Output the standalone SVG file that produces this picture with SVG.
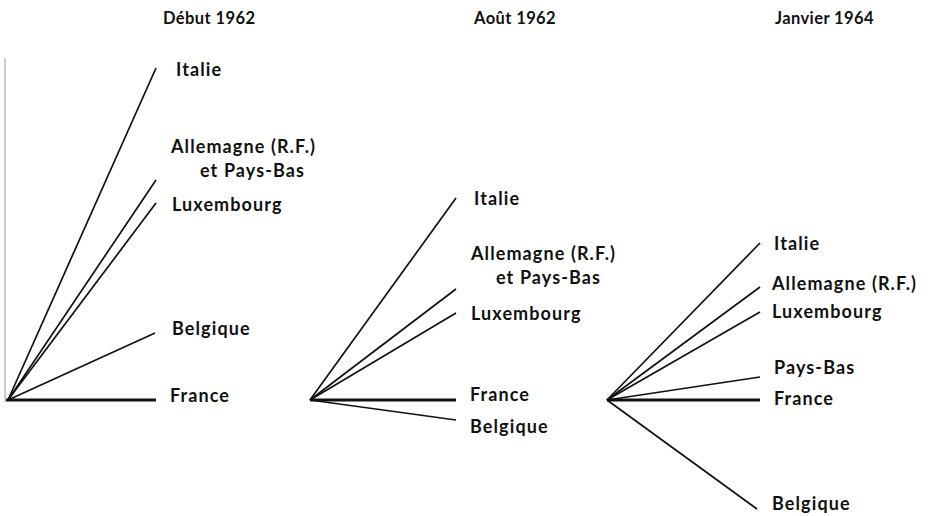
<svg xmlns="http://www.w3.org/2000/svg" width="940" height="516" viewBox="0 0 940 516">
<style>
text{font-family:Lato,"Open Sans","DejaVu Sans",sans-serif;font-size:18px;font-weight:bold;fill:#111;letter-spacing:1.1px}
text.h{font-size:16.5px;letter-spacing:0.4px}
.l{stroke:#111;stroke-width:1.7;fill:none}
.t{stroke:#111;stroke-width:3.2;fill:none}
.ax{stroke:#999;stroke-width:1;fill:none}
</style>
<rect width="940" height="516" fill="#fff"/>
<g id="titles">
<text class="h" x="163" y="24">Début 1962</text>
<text class="h" x="474" y="24">Août 1962</text>
<text class="h" x="775" y="24">Janvier 1964</text>
</g>
<g id="connectors">
<line class="ax" x1="5" y1="58" x2="5" y2="402"/>
<line class="l" x1="8" y1="400" x2="156" y2="68"/>
<line class="l" x1="8" y1="400" x2="156" y2="180"/>
<line class="l" x1="8" y1="400" x2="156" y2="203"/>
<line class="l" x1="8" y1="400" x2="155" y2="333"/>
<line class="t" x1="6" y1="400" x2="156" y2="400"/>
<line class="l" x1="310" y1="400" x2="456" y2="198"/>
<line class="l" x1="310" y1="400" x2="456" y2="289"/>
<line class="l" x1="310" y1="400" x2="456" y2="313"/>
<line class="t" x1="310" y1="400" x2="456" y2="400"/>
<line class="l" x1="310" y1="400" x2="456" y2="420"/>
<line class="l" x1="607" y1="400" x2="760" y2="243"/>
<line class="l" x1="607" y1="400" x2="760" y2="287"/>
<line class="l" x1="607" y1="400" x2="760" y2="312"/>
<line class="l" x1="607" y1="400" x2="760" y2="377"/>
<line class="t" x1="607" y1="400" x2="760" y2="400"/>
<line class="l" x1="607" y1="400" x2="757" y2="509"/>
</g>
<g id="fan1">
<text x="176" y="76">Italie</text>
<text x="171" y="153">Allemagne (R.F.)</text>
<text x="200" y="177">et Pays-Bas</text>
<text x="172" y="211">Luxembourg</text>
<text x="172" y="335">Belgique</text>
<text x="170" y="402">France</text>
</g>
<g id="fan2">
<text x="474" y="205">Italie</text>
<text x="471" y="260">Allemagne (R.F.)</text>
<text x="496" y="284">et Pays-Bas</text>
<text x="471" y="320">Luxembourg</text>
<text x="470" y="401">France</text>
<text x="470" y="433">Belgique</text>
</g>
<g id="fan3">
<text x="774" y="250">Italie</text>
<text x="772" y="290">Allemagne (R.F.)</text>
<text x="772" y="318">Luxembourg</text>
<text x="774" y="374">Pays-Bas</text>
<text x="774" y="405">France</text>
<text x="772" y="510">Belgique</text>
</g>
</svg>
